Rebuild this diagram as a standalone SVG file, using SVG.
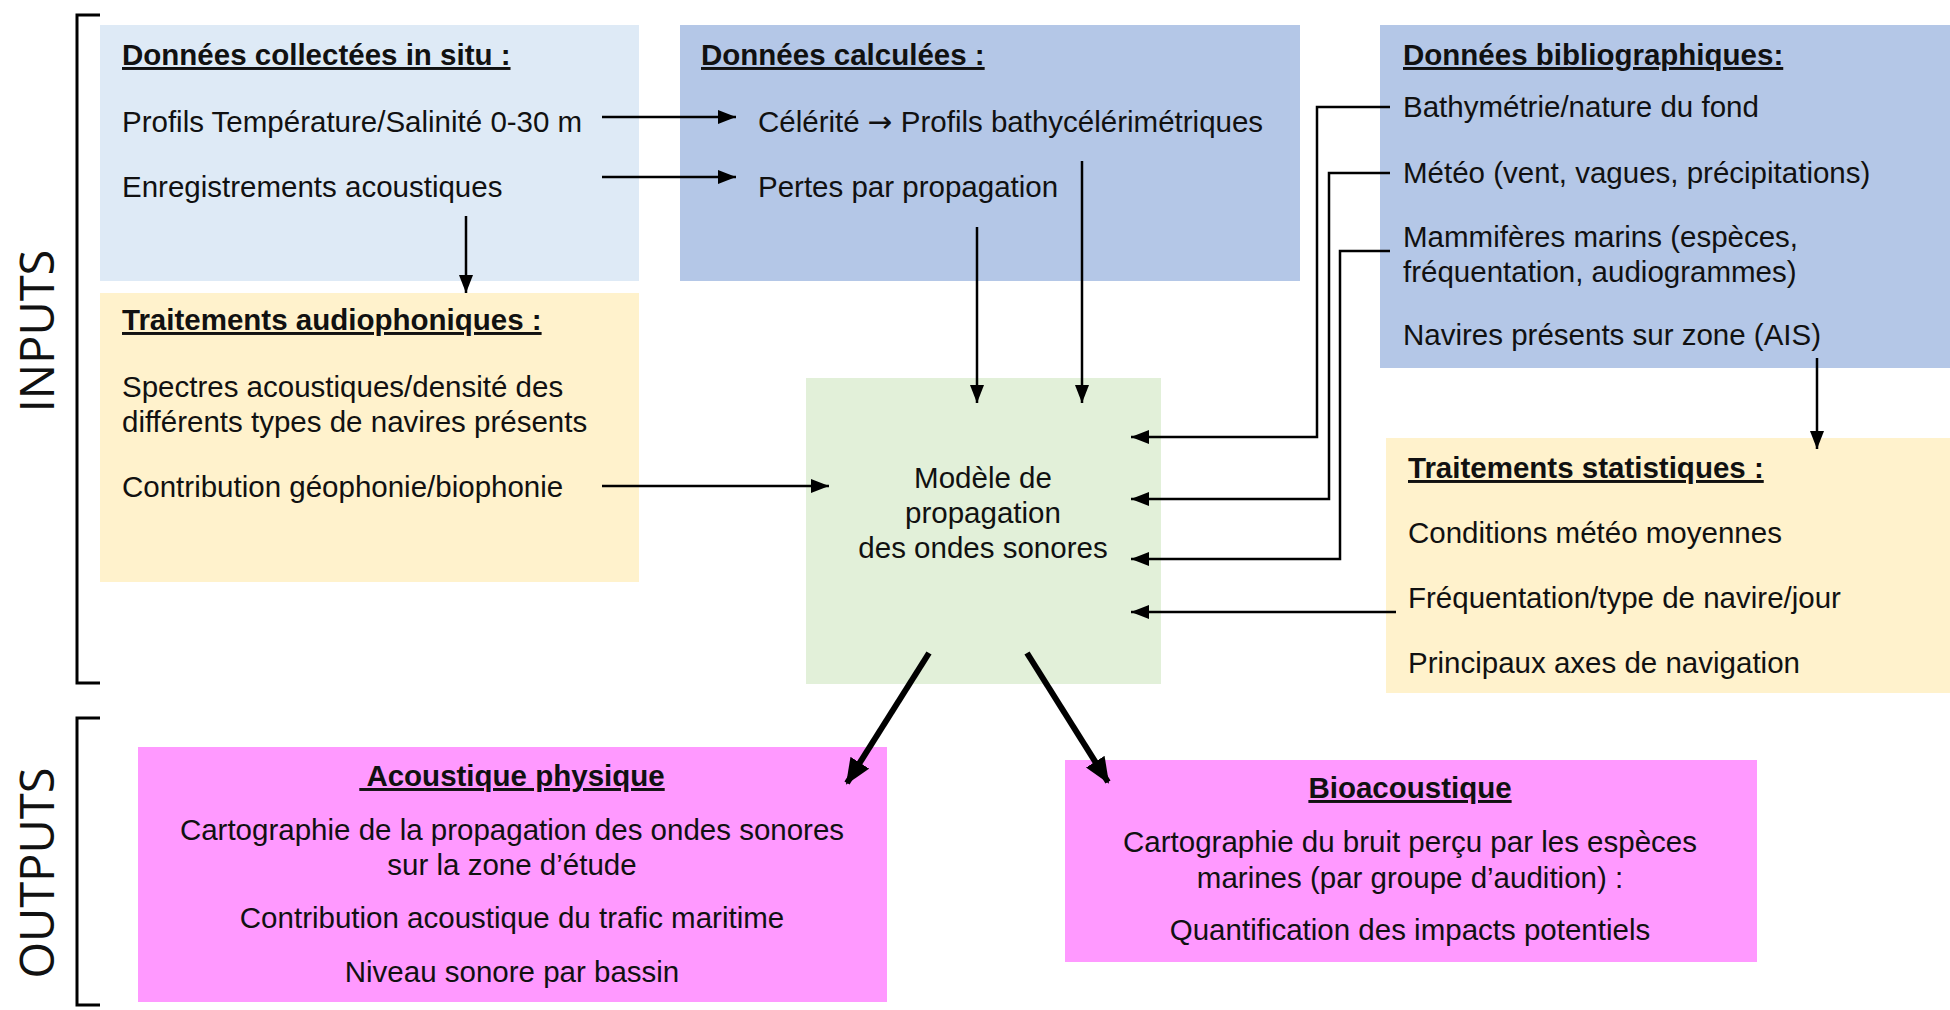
<svg xmlns="http://www.w3.org/2000/svg" width="1950" height="1010" viewBox="0 0 1950 1010">
<style>
text{font-family:"Liberation Sans",Arial,sans-serif;font-size:29.5px;fill:#111}
.t{font-weight:bold;text-decoration:underline}
.c{text-anchor:middle}
.side{font-family:"Open Sans","Noto Sans",sans-serif;font-size:47px;font-weight:400;text-anchor:middle}
.ar{font-family:"DejaVu Sans",sans-serif}
.ln{fill:none;stroke:#000;stroke-width:2.5}
.thick{fill:none;stroke:#000;stroke-width:6}
.br{fill:none;stroke:#000;stroke-width:3}
</style>
<defs>
<marker id="ah" markerUnits="userSpaceOnUse" markerWidth="18" markerHeight="14" refX="18" refY="7" orient="auto"><path d="M0,0 L18,7 L0,14 z" fill="#000"/></marker>
<marker id="ahb" markerUnits="userSpaceOnUse" markerWidth="26" markerHeight="22" refX="24" refY="11" orient="auto"><path d="M0,0 L26,11 L0,22 z" fill="#000"/></marker>
</defs>
<rect width="1950" height="1010" fill="#fff"/>
<g id="labels">
<path class="br" d="M100,15 H77 V683 H100"/>
<path class="br" d="M100,718 H77 V1005 H100"/>
<text class="side" transform="translate(54,331) rotate(-90)">INPUTS</text>
<text class="side" transform="translate(54,873) rotate(-90)">OUTPUTS</text>
</g>
<g id="insitu">
<rect x="100" y="25" width="539" height="256" fill="#DEEAF6"/>
<text class="t" x="122" y="65">Données collectées in situ :</text>
<text x="122" y="132">Profils Température/Salinité 0-30 m</text>
<text x="122" y="197">Enregistrements acoustiques</text>
</g>
<g id="calculees">
<rect x="680" y="25" width="620" height="256" fill="#B4C7E7"/>
<text class="t" x="701" y="65">Données calculées :</text>
<text x="758" y="132">Célérité <tspan class="ar">→</tspan> Profils bathycélérimétriques</text>
<text x="758" y="197">Pertes par propagation</text>
</g>
<g id="biblio">
<rect x="1380" y="25" width="570" height="343" fill="#B4C7E7"/>
<text class="t" x="1403" y="65">Données bibliographiques:</text>
<text x="1403" y="117">Bathymétrie/nature du fond</text>
<text x="1403" y="183">Météo (vent, vagues, précipitations)</text>
<text x="1403" y="247">Mammifères marins (espèces,</text>
<text x="1403" y="282">fréquentation, audiogrammes)</text>
<text x="1403" y="345">Navires présents sur zone (AIS)</text>
</g>
<g id="audio">
<rect x="100" y="293" width="539" height="289" fill="#FFF2CC"/>
<text class="t" x="122" y="330">Traitements audiophoniques :</text>
<text x="122" y="397">Spectres acoustiques/densité des</text>
<text x="122" y="432">différents types de navires présents</text>
<text x="122" y="497">Contribution géophonie/biophonie</text>
</g>
<g id="modele">
<rect x="806" y="378" width="355" height="306" fill="#E2F0D9"/>
<text class="c" x="983" y="488">Modèle de</text>
<text class="c" x="983" y="523">propagation</text>
<text class="c" x="983" y="558">des ondes sonores</text>
</g>
<g id="stats">
<rect x="1386" y="438" width="564" height="255" fill="#FFF2CC"/>
<text class="t" x="1408" y="478">Traitements statistiques :</text>
<text x="1408" y="543">Conditions météo moyennes</text>
<text x="1408" y="608">Fréquentation/type de navire/jour</text>
<text x="1408" y="673">Principaux axes de navigation</text>
</g>
<g id="physique">
<rect x="138" y="747" width="749" height="255" fill="#FF99FF"/>
<text class="t c" x="512" y="786" xml:space="preserve"> Acoustique physique</text>
<text class="c" x="512" y="840">Cartographie de la propagation des ondes sonores</text>
<text class="c" x="512" y="875">sur la zone d’étude</text>
<text class="c" x="512" y="928">Contribution acoustique du trafic maritime</text>
<text class="c" x="512" y="982">Niveau sonore par bassin</text>
</g>
<g id="bioacoustique">
<rect x="1065" y="760" width="692" height="202" fill="#FF99FF"/>
<text class="t c" x="1410" y="798">Bioacoustique</text>
<text class="c" x="1410" y="852">Cartographie du bruit perçu par les espèces</text>
<text class="c" x="1410" y="888">marines (par groupe d’audition) :</text>
<text class="c" x="1410" y="940">Quantification des impacts potentiels</text>
</g>
<g id="connectors">
<path class="ln" d="M602,117 H736" marker-end="url(#ah)"/>
<path class="ln" d="M602,177 H736" marker-end="url(#ah)"/>
<path class="ln" d="M466,216 V293" marker-end="url(#ah)"/>
<path class="ln" d="M977,227 V403" marker-end="url(#ah)"/>
<path class="ln" d="M1082,161 V403" marker-end="url(#ah)"/>
<path class="ln" d="M1390,107 H1317 V437 H1131" marker-end="url(#ah)"/>
<path class="ln" d="M1390,173 H1329 V499 H1131" marker-end="url(#ah)"/>
<path class="ln" d="M1390,251 H1340 V559 H1131" marker-end="url(#ah)"/>
<path class="ln" d="M1817,358 V449" marker-end="url(#ah)"/>
<path class="ln" d="M1396,612 H1131" marker-end="url(#ah)"/>
<path class="ln" d="M602,486 H829" marker-end="url(#ah)"/>
<path class="thick" d="M929,653 L847,783" marker-end="url(#ahb)"/>
<path class="thick" d="M1027,653 L1108,782" marker-end="url(#ahb)"/>
</g>
</svg>
